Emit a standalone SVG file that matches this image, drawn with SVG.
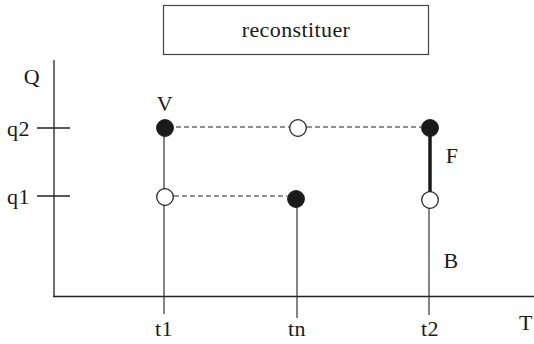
<svg xmlns="http://www.w3.org/2000/svg" width="534" height="344" viewBox="0 0 534 344">
<style>
.t{font-family:"Liberation Serif","DejaVu Serif",serif;font-size:22px;letter-spacing:0.4px;fill:#1a1a1a}
.ax{stroke:#222;stroke-width:1.3;fill:none}
.thin{stroke:#333;stroke-width:1.2;fill:none}
.dash{stroke:#222;stroke-width:1.1;stroke-dasharray:5,3;fill:none}
.filled{fill:#1a1a1a;stroke:#1a1a1a;stroke-width:1.2}
.open{fill:#fff;stroke:#222;stroke-width:1.3}
</style>
<rect width="534" height="344" fill="#fff"/>
<g id="title">
<rect x="163.5" y="5.5" width="265" height="49" fill="#fff" stroke="#444" stroke-width="1.2"/>
<text class="t" x="296" y="37" text-anchor="middle">reconstituer</text>
</g>
<g id="axes">
<line class="ax" x1="54" y1="60" x2="54" y2="297"/>
<line class="ax" x1="53" y1="296.5" x2="534" y2="296.5" stroke-width="1.6"/>
<line class="ax" x1="37" y1="128" x2="70" y2="128"/>
<line class="ax" x1="37" y1="196" x2="70" y2="196"/>
<text class="t" x="32" y="84" text-anchor="middle">Q</text>
<text class="t" x="7" y="136">q2</text>
<text class="t" x="7" y="204">q1</text>
<text class="t" x="164" y="336" text-anchor="middle">t1</text>
<text class="t" x="297" y="336" text-anchor="middle">tn</text>
<text class="t" x="430" y="336" text-anchor="middle">t2</text>
<text class="t" x="526" y="330" text-anchor="middle">T</text>
</g>
<g id="connectors">
<line class="thin" x1="164" y1="128" x2="164" y2="314"/>
<line class="thin" x1="297" y1="199" x2="297" y2="318"/>
<line class="thin" x1="429" y1="200" x2="429" y2="315"/>
<line x1="430" y1="128" x2="430" y2="197" stroke="#1a1a1a" stroke-width="3.5"/>
<line class="dash" x1="176" y1="127" x2="289" y2="127"/>
<line class="dash" x1="307" y1="127" x2="421" y2="127"/>
<line class="dash" x1="174" y1="196" x2="287" y2="196"/>
</g>
<g id="node-V">
<circle class="filled" cx="165" cy="128" r="8.3"/>
<text class="t" x="165" y="111" text-anchor="middle">V</text>
</g>
<g id="node-mid-q2"><circle class="open" cx="298" cy="128" r="8.3"/></g>
<g id="node-F">
<circle class="filled" cx="430" cy="128" r="8.3"/>
<text class="t" x="452" y="163" text-anchor="middle">F</text>
</g>
<g id="node-t1-q1"><circle class="open" cx="165" cy="197" r="8.3"/></g>
<g id="node-tn"><circle class="filled" cx="296" cy="199" r="8.3"/></g>
<g id="node-B">
<circle class="open" cx="430" cy="200" r="8.3"/>
<text class="t" x="451" y="268" text-anchor="middle">B</text>
</g>
</svg>
